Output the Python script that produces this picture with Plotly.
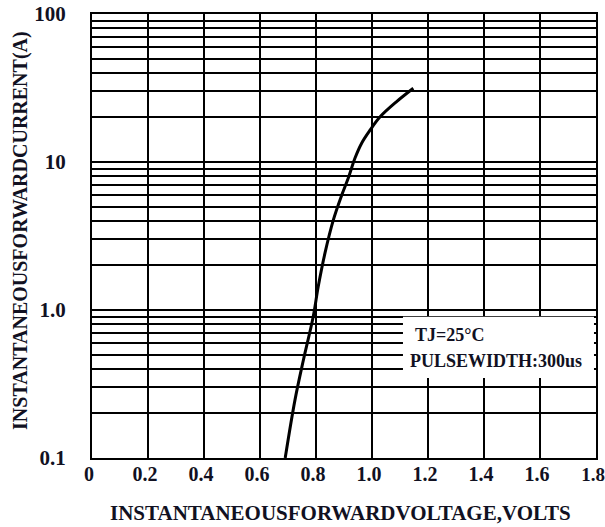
import plotly.graph_objects as go

# Data
voltage = [0.69, 0.725, 0.755, 0.790, 0.808, 0.832, 0.862, 0.892, 0.915, 0.939,
           0.963, 0.993, 1.029, 1.088, 1.1475]
current = [0.1, 0.247, 0.459, 0.90, 1.44, 2.42, 4.06, 5.98, 7.76, 10.6,
           13.4, 16.4, 20.2, 25.6, 31.5]

x_ticks = [0, 0.2, 0.4, 0.6, 0.8, 1.0, 1.2, 1.4, 1.6, 1.8]
x_tick_text = ["0", "0.2", "0.4", "0.6", "0.8", "1.0", "1.2", "1.4", "1.6",
               "<span style='font-size:19px'>1.8</span>"]
y_major = [0.1, 1, 10, 100]
y_major_text = ["0.1", "1.0", "10", "100"]

y_vals = []
y_text = []
for d, lab in zip(y_major[:-1], y_major_text[:-1]):
    for m in range(1, 10):
        y_vals.append(round(d * m, 6))
        y_text.append(lab if m == 1 else "")
y_vals.append(100)
y_text.append("100")

FONT = "Liberation Serif"
INK = "#111122"

fig = go.Figure()
fig.add_trace(go.Scatter(
    x=voltage, y=current, mode="lines",
    line=dict(color="black", width=3, shape="spline", smoothing=1.0),
    showlegend=False, hoverinfo="skip",
))

fig.update_layout(
    width=605, height=527,
    margin=dict(l=92, r=9, t=14, b=69),
    paper_bgcolor="white", plot_bgcolor="white",
    font=dict(family=FONT, color=INK),
    xaxis=dict(
        range=[0, 1.8], tickvals=x_ticks, ticktext=x_tick_text,
        showgrid=True, gridcolor="black", gridwidth=1.5,
        zeroline=False, showline=True, linecolor="black", linewidth=2, mirror=True,
        ticks="", tickfont=dict(family=FONT, size=20, color=INK, weight="bold"),
        automargin=False, ticklabelstandoff=-3, ticklabelshift=-3,
        ticklabeloverflow="allow",
    ),
    yaxis=dict(
        type="log", range=[-1, 2], tickvals=y_vals, ticktext=y_text,
        showgrid=True, gridcolor="black", gridwidth=1.5,
        zeroline=False, showline=True, linecolor="black", linewidth=2, mirror=True,
        ticks="", tickfont=dict(family=FONT, size=21, color=INK, weight="bold"),
        automargin=False, ticklabelstandoff=20, ticklabeloverflow="allow",
    ),
)

# axis titles
fig.add_annotation(xref="paper", yref="paper", x=0.4935, y=-0.124,
                   xanchor="center", yanchor="middle", showarrow=False,
                   text="INSTANTANEOUSFORWARDVOLTAGE,VOLTS",
                   font=dict(family=FONT, size=21, color=INK, weight="bold"))
fig.add_annotation(xref="paper", yref="paper", x=-0.143, y=0.5135,
                   xanchor="center", yanchor="middle", showarrow=False, textangle=-90,
                   text="INSTANTANEOUSFORWARDCURRENT(A)",
                   font=dict(family=FONT, size=20, color=INK, weight="bold"))

# condition box
fig.add_shape(type="rect", xref="paper", yref="paper",
              x0=0.617, x1=0.996, y0=0.18, y1=0.318,
              fillcolor="white", line=dict(width=0), layer="above")
fig.add_annotation(xref="paper", yref="paper", x=0.637, y=0.277, xanchor="left", yanchor="middle",
                   text="TJ=25°C", showarrow=False,
                   font=dict(family=FONT, size=18, color=INK, weight="bold"))
fig.add_annotation(xref="paper", yref="paper", x=0.627, y=0.2185, xanchor="left", yanchor="middle",
                   text="PULSEWIDTH:300us", showarrow=False,
                   font=dict(family=FONT, size=18, color=INK, weight="bold"))

fig.write_html("out.html", config={"displayModeBar": False},
               post_script="document.body.style.margin='0';")
